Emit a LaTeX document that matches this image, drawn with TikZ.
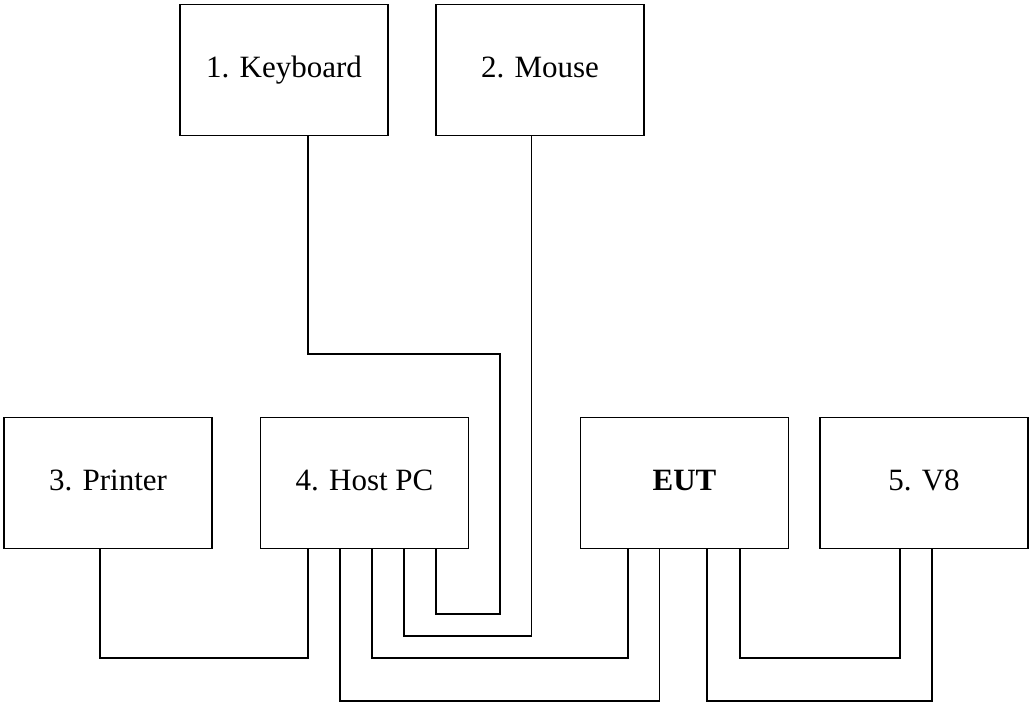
\documentclass[tikz,border=0pt]{standalone}
\usepackage{fontspec}
\setmainfont{Liberation Serif}
\usetikzlibrary{positioning}
\tikzset{
every box/.style={draw, line width=1.6pt, minimum width=208pt, minimum height=131pt,
    inner sep=0pt, text height=21pt, text depth=7pt, font=\fontsize{31}{36}\selectfont},
wire/.style={line width=1.6pt},
}

\begin{document}
\begin{tikzpicture}[x=1pt, y=-1pt]
    \useasboundingbox (0,0) rectangle (1029,704);
    \node[every box] (kbd) at (284,70) {1. Keyboard};
    \node[every box] (mouse) at (540,70) {2. Mouse};
    \node[every box] (prn) at (108,483) {3. Printer};
    \node[every box] (host) at (364.5,483) {4. Host PC};
    \node[every box] (eut) at (684.5,483) {\textbf{EUT}};
    \node[every box] (v8) at (924,483) {5. V8};

    \draw[wire] ([xshift=24]kbd.south) -- ++(0,217.5) -| ++(192,260) -| ([xshift=71.5]host.south);
    \draw[wire] ([xshift=-8.5]mouse.south) -- ++(0,499.5) -| ([xshift=39.5]host.south);
    \draw[wire] ([xshift=-8]prn.south) -- ++(0,108.5) -| ([xshift=-56.5]host.south);
    \draw[wire] ([xshift=7.5]host.south) -- ++(0,108.5) -| ([xshift=-56.5]eut.south);
    \draw[wire] ([xshift=-24.5]host.south) -- ++(0,151.5) -| ([xshift=-25]eut.south);
    \draw[wire] ([xshift=22.5]eut.south) -- ++(0,151.5) -| ([xshift=8]v8.south);
    \draw[wire] ([xshift=55.5]eut.south) -- ++(0,108.5) -| ([xshift=-24]v8.south);
\end{tikzpicture}
\end{document}
